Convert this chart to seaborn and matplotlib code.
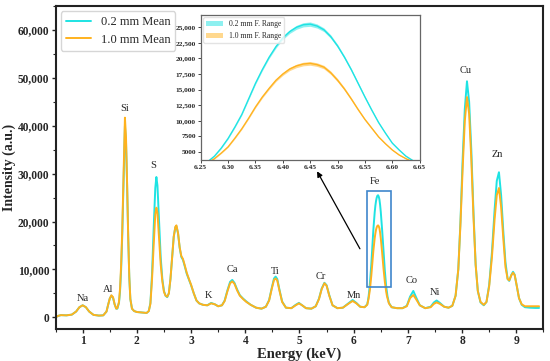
import numpy as np
import seaborn as sns
import matplotlib.pyplot as plt
import matplotlib.patches as patches
from matplotlib.ticker import FuncFormatter, MultipleLocator

# energy axis (keV) and mean intensities
energy = [0.50, 0.55, 0.60, 0.70, 0.80, 0.88, 0.94, 1.00, 1.06, 1.12, 1.20, 1.30, 1.38,
          1.44, 1.47, 1.50, 1.53, 1.56, 1.59, 1.62, 1.64, 1.67, 1.69, 1.71, 1.73, 1.75,
          1.77, 1.78, 1.80, 1.82, 1.84, 1.86, 1.88, 1.91, 1.95, 2.00, 2.10, 2.18, 2.22,
          2.25, 2.28, 2.31, 2.34, 2.36, 2.38, 2.41, 2.44, 2.47, 2.50, 2.53, 2.56, 2.59,
          2.62, 2.65, 2.68, 2.71, 2.73, 2.76, 2.79, 2.82, 2.85, 2.88, 2.92, 2.96, 3.00,
          3.05, 3.10, 3.15, 3.22, 3.30, 3.37, 3.44, 3.50, 3.57, 3.62, 3.67, 3.72, 3.76,
          3.80, 3.85, 3.90, 3.96, 4.02, 4.10, 4.20, 4.30, 4.38, 4.44, 4.49, 4.53, 4.56,
          4.59, 4.63, 4.68, 4.75, 4.85, 4.93, 4.99, 5.05, 5.12, 5.22, 5.30, 5.36, 5.41,
          5.46, 5.50, 5.55, 5.61, 5.70, 5.80, 5.90, 5.98, 6.05, 6.12, 6.20,
          6.25, 6.2625, 6.275, 6.2875, 6.30, 6.3125, 6.325, 6.3375, 6.35, 6.3625, 6.375,
          6.3875, 6.40, 6.4125, 6.425, 6.4375, 6.45, 6.4625, 6.475, 6.4875, 6.50, 6.5125,
          6.525, 6.5375, 6.55, 6.5625, 6.575, 6.5875, 6.60, 6.6125, 6.625, 6.6375, 6.65,
          6.70, 6.80, 6.90, 6.98, 7.04, 7.10, 7.15, 7.22, 7.32, 7.42, 7.48, 7.53, 7.59,
          7.67, 7.75, 7.82, 7.88, 7.93, 7.97, 8.01, 8.05, 8.09, 8.13, 8.17, 8.21, 8.25,
          8.29, 8.34, 8.40, 8.45, 8.50, 8.55, 8.60, 8.64, 8.68, 8.72, 8.76, 8.80, 8.84,
          8.87, 8.91, 8.94, 8.97, 9.01, 9.05, 9.10, 9.16, 9.25, 9.35, 9.42]

mean_02 = [0, 300, 450, 400, 550, 1200, 2100, 2500, 2100, 1200, 500, 350, 400,
           1200, 2600, 3900, 4500, 4100, 2700, 1800, 1800, 3000, 5500, 10000, 17000, 26500,
           36000, 39900, 36500, 27500, 17000, 8500, 3800, 1800, 1300, 1100, 1000, 900, 1300,
           3000, 9000, 18500, 27000, 29300, 27500, 20000, 12500, 8000, 5500, 4500, 4200, 5000,
           8000, 12500, 16800, 18800, 19000, 17500, 14500, 12600, 12000, 10800, 9100, 7900, 6700,
           5000, 3500, 2900, 2600, 2500, 3000, 2700, 2300, 2500, 3500, 5600, 7400, 7800,
           7200, 5800, 4600, 3900, 3300, 2600, 2000, 1800, 2200, 3600, 6200, 8100, 8500,
           8000, 5800, 3300, 2000, 1900, 2600, 3000, 2500, 1900, 1800, 2300, 3900, 6000,
           7200, 6700, 4600, 2500, 1900, 2000, 2900, 3600, 3000, 2200, 2100,
           2700, 3400, 4300, 5600, 7150, 9000, 11000, 13500, 16000, 18200, 20200,
           21900, 23300, 24300, 25000, 25400, 25500, 25200, 24600, 23500, 22000, 20200,
           18200, 16000, 13800, 11700, 9700, 8000, 6400, 5300, 4300, 3600, 3000,
           2100, 1900, 1900, 2400, 4300, 5500, 4200, 2500, 1900, 2200, 3100, 3500, 3000,
           2200, 2000, 2400, 4500, 10000, 20000, 33000, 43500, 49300, 45000, 35000, 22000, 11000,
           5500, 3100, 2500, 3200, 6800, 13500, 22500, 28500, 30300, 25500, 18000, 11500, 8000,
           7600, 8900, 9500, 8900, 6500, 4000, 2600, 2100, 2000, 1950, 1950]

mean_10 = [0, 300, 450, 400, 550, 1200, 2100, 2500, 2100, 1200, 500, 350, 400,
           1200, 2600, 3900, 4600, 4200, 2700, 1800, 1900, 3200, 6000, 11000, 18000, 27500,
           37500, 41700, 37500, 28000, 17000, 8500, 3800, 1800, 1300, 1100, 1000, 900, 1300,
           2800, 8000, 15000, 21500, 22900, 21800, 16500, 11000, 7500, 5300, 4500, 4300, 5000,
           8000, 12500, 16800, 18900, 19200, 17600, 14600, 12800, 12200, 11000, 9300, 8000, 6800,
           5000, 3500, 2900, 2600, 2500, 2900, 2700, 2300, 2500, 3400, 5400, 7100, 7500,
           7000, 5600, 4500, 3800, 3200, 2600, 2000, 1800, 2200, 3500, 6000, 7800, 8100,
           7700, 5600, 3200, 2000, 1900, 2500, 2900, 2500, 1900, 1800, 2300, 3800, 5900,
           7100, 6600, 4500, 2500, 1900, 2000, 2800, 3400, 2900, 2200, 2100,
           2600, 3200, 3900, 4800, 5800, 7200, 8700, 10400, 12200, 13800, 15200,
           16500, 17500, 18300, 18800, 19100, 19200, 19000, 18600, 17700, 16500, 15100,
           13500, 11800, 10200, 8800, 7400, 6300, 5300, 4500, 3900, 3400, 2900,
           2100, 1900, 1900, 2300, 4000, 4650, 3800, 2500, 1900, 2100, 2800, 3100, 2800,
           2200, 2000, 2400, 4500, 10000, 19500, 31000, 41000, 46000, 42500, 33000, 21000, 11000,
           5500, 3200, 2600, 3200, 6500, 12500, 20500, 25500, 27000, 23000, 16500, 10500, 8000,
           7700, 8800, 9300, 8800, 6500, 4000, 2700, 2300, 2300, 2300, 2300]

# half-width of the fluctuation range around the Fe peak (6.25 - 6.65 keV)
fe_spread_02 = [40, 50, 60, 70, 80, 100, 120, 140, 160, 180, 200, 230, 260, 290, 320, 340, 350,
                330, 300, 280, 250, 230, 200, 180, 160, 140, 120, 100, 80, 70, 60, 50, 40]
fe_spread_10 = [40, 45, 50, 60, 70, 85, 100, 120, 140, 160, 180, 200, 220, 250, 280, 290, 300,
                290, 280, 270, 260, 230, 200, 170, 150, 130, 110, 90, 70, 60, 50, 45, 40]

elements = ["Na", "Al", "Si", "S", "K", "Ca", "Ti", "Cr", "Mn", "Fe", "Co", "Ni", "Cu", "Zn"]
element_x = [1.00, 1.47, 1.78, 2.30, 3.32, 3.76, 4.55, 5.39, 6.00, 6.39, 7.07, 7.50, 8.06, 8.65]
element_y = [4000, 5850, 43600, 31800, 4450, 10000, 9650, 8500, 4650, 28450, 7650, 5150, 51600, 34100]

c02 = "#1EE3E3"
c10 = "#FFB21E"

sns.set_style("ticks")
plt.rcParams["font.family"] = ["Liberation Serif", "DejaVu Serif"]

energy = np.array(energy)
mean_02 = np.array(mean_02)
mean_10 = np.array(mean_10)

fig = plt.figure(figsize=(5.5, 3.61), dpi=100)
ax = fig.add_axes([0.101, 0.088, 0.887, 0.895])

sns.lineplot(x=energy, y=mean_02, color=c02, lw=1.4, label="0.2 mm Mean",
             sort=False, estimator=None, ax=ax)
sns.lineplot(x=energy, y=mean_10, color=c10, lw=1.4, label="1.0 mm Mean",
             sort=False, estimator=None, ax=ax)

ax.set_xlim(0.5, 9.5)
ax.set_ylim(-2500, 65000)
ax.xaxis.set_major_locator(MultipleLocator(1))
ax.xaxis.set_minor_locator(MultipleLocator(0.5))
ax.yaxis.set_major_locator(MultipleLocator(10000))
ax.yaxis.set_minor_locator(MultipleLocator(5000))
ax.yaxis.set_major_formatter(FuncFormatter(lambda v, p: f"{v:,.0f}"))
ax.tick_params(which="major", direction="out", length=3, width=1, labelsize=8.3, pad=1.5)
ax.tick_params(which="minor", direction="out", length=2, width=0.8)
for lab in ax.get_xticklabels() + ax.get_yticklabels():
    lab.set_fontweight("bold")
for sp in ax.spines.values():
    sp.set_linewidth(1.5)
    sp.set_color("#222222")
ax.set_xlabel("Energy (keV)", fontsize=10.5, fontweight="bold", labelpad=0)
ax.set_ylabel("Intensity (a.u.)", fontsize=10, fontweight="bold", labelpad=1)

ax.legend(loc="upper left", fontsize=9, frameon=True, edgecolor="#cccccc",
          borderaxespad=0.4, handlelength=2.0, labelspacing=0.45)

for name, xx, yy in zip(elements, element_x, element_y):
    ax.text(xx, yy, name, fontsize=7.5, ha="center", va="center")

# box around Fe peak and arrow towards inset
ax.add_patch(patches.Rectangle((6.25, 6400), 0.43, 20000, fill=False,
                               edgecolor="#3F86CC", lw=1.2, zorder=5))
ax.annotate("", xy=(5.30, 31000), xytext=(6.14, 13800),
            arrowprops=dict(arrowstyle="-|>", color="black", lw=0.9,
                            mutation_scale=8))

# inset with the Fe peak
ins = fig.add_axes([0.365, 0.557, 0.398, 0.402])
mask = (energy > 6.24) & (energy < 6.66)
fe_e = energy[mask]
fe_02 = mean_02[mask]
fe_10 = mean_10[mask]
ins.fill_between(fe_e, fe_02 - np.array(fe_spread_02), fe_02 + np.array(fe_spread_02),
                 color=c02, alpha=0.5, lw=0, label="0.2 mm F. Range")
ins.fill_between(fe_e, fe_10 - np.array(fe_spread_10), fe_10 + np.array(fe_spread_10),
                 color=c10, alpha=0.5, lw=0, label="1.0 mm F. Range")
sns.lineplot(x=fe_e, y=fe_02, color=c02, lw=1.0, sort=False, estimator=None, ax=ins)
sns.lineplot(x=fe_e, y=fe_10, color=c10, lw=1.0, sort=False, estimator=None, ax=ins)
ins.set_xlim(6.25, 6.65)
ins.set_ylim(3700, 27000)
ins.set_xticks(np.arange(6.25, 6.651, 0.05))
ins.set_yticks(np.arange(5000, 25001, 2500))
ins.xaxis.set_major_formatter(FuncFormatter(lambda v, p: f"{v:.2f}"))
ins.yaxis.set_major_formatter(
    FuncFormatter(lambda v, p: f"{v:,.0f}" if v >= 10000 else f"{v:.0f}"))
ins.tick_params(direction="out", length=2, width=0.6, labelsize=5.3, pad=1.5)
for lab in ins.get_xticklabels() + ins.get_yticklabels():
    lab.set_fontweight("bold")
for sp in ins.spines.values():
    sp.set_linewidth(0.9)
    sp.set_color("#666666")
ins.set_xlabel("")
ins.set_ylabel("")
ins.legend(loc="upper left", fontsize=5.5, frameon=True, edgecolor="#dddddd",
           borderaxespad=0.3, handlelength=2.2, labelspacing=0.5)

fig.savefig("out.png", dpi=100)
